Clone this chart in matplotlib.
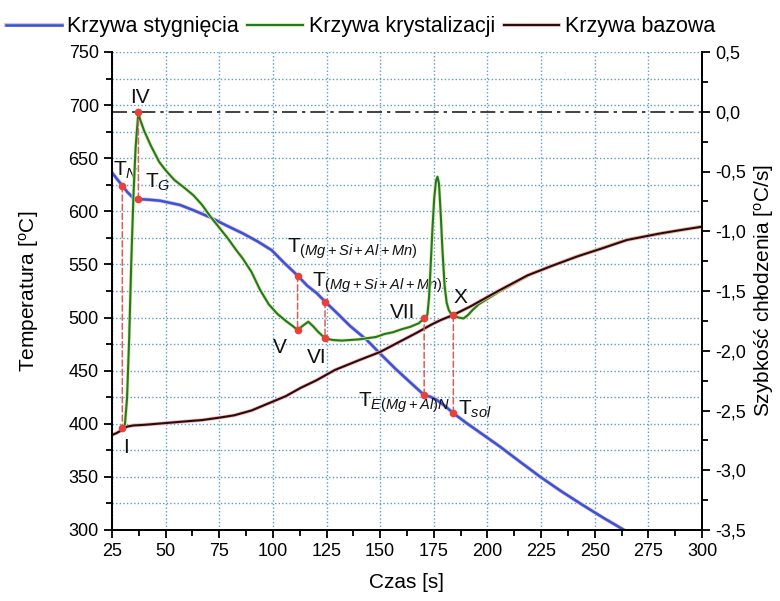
import matplotlib
matplotlib.use("Agg")
import matplotlib.pyplot as plt
import matplotlib.patheffects as pe
from matplotlib.ticker import MultipleLocator, FuncFormatter
from matplotlib.patches import ConnectionPatch

plt.rcParams['font.family'] = ['Liberation Sans', 'DejaVu Sans']
plt.rcParams['mathtext.fontset'] = 'custom'
plt.rcParams['mathtext.rm'] = 'Liberation Sans'
plt.rcParams['mathtext.it'] = 'Liberation Sans:italic'

# Krzywa stygnięcia (lewa oś, °C)
t_cool = [25, 27.5, 29.5, 32, 34.9, 37.3, 42, 47.4, 56.7, 63, 70.7, 78, 86.2, 93, 99.5,
          105, 111.5, 116, 120.4, 124.3, 130, 136, 143.7, 150, 157, 164, 170.5, 173.3,
          176.4, 180, 184.1, 190, 196, 205.9, 215, 224.5, 234, 244, 254, 263.7]
T_cool = [636.5, 630, 625, 618.5, 612.5, 611.5, 611, 610, 606, 601, 594.4, 587, 579, 571.5, 563.3,
          552, 539.5, 530, 523, 515, 504, 492, 479, 466, 452, 439, 427, 425.5,
          422.4, 417, 410, 401, 392.5, 378.4, 364.5, 350.2, 337, 324, 311.5, 300]

# Krzywa krystalizacji (prawa oś, °C/s)
t_cryst = [29.8, 31, 32, 33, 34, 35, 36, 37.3, 38, 40, 43, 47, 50, 54, 59, 63, 67, 71, 75, 79,
           83, 86, 90, 94, 98, 102, 106, 109, 111.5, 114, 116.5, 119, 121, 124.3, 128, 132,
           136, 140, 144, 148, 152, 156, 160, 164, 168, 170.5, 172, 172.8, 173.5, 174.3,
           175.2, 176, 176.7, 177.4, 178.2, 179, 180, 181, 182, 183, 184.1, 186, 188.8,
           191, 193, 196, 205, 220, 240, 265, 300]
r_cryst = [-2.65, -2.62, -2.4, -1.9, -1.25, -0.7, -0.3, 0.0, -0.06, -0.16, -0.28, -0.42, -0.49,
           -0.57, -0.64, -0.70, -0.78, -0.88, -0.97, -1.06, -1.16, -1.23, -1.34, -1.49, -1.61,
           -1.69, -1.75, -1.79, -1.826, -1.79, -1.757, -1.80, -1.84, -1.896, -1.91, -1.915,
           -1.91, -1.905, -1.895, -1.885, -1.86, -1.845, -1.82, -1.80, -1.77, -1.73, -1.70,
           -1.55, -1.30, -1.00, -0.72, -0.58, -0.544, -0.60, -0.85, -1.15, -1.45, -1.60,
           -1.66, -1.69, -1.70, -1.72, -1.73, -1.70, -1.66, -1.61, -1.51, -1.36, -1.22,
           -1.07, -0.96]

# Krzywa bazowa (prawa oś, °C/s)
t_base = [25, 27, 29, 30.3, 32, 35, 40, 50, 60, 67, 75, 82, 90, 98, 106, 113, 120, 129, 140,
          150, 159, 167, 174, 178, 184.1, 192, 205, 218.6, 230, 242, 254, 265, 280, 290, 300]
r_base = [-2.705, -2.69, -2.67, -2.65, -2.635, -2.625, -2.62, -2.605, -2.59, -2.58, -2.56,
          -2.54, -2.50, -2.44, -2.38, -2.31, -2.25, -2.16, -2.08, -2.01, -1.925, -1.85, -1.78,
          -1.745, -1.70, -1.63, -1.50, -1.37, -1.29, -1.21, -1.14, -1.073, -1.02, -0.99, -0.962]

# Punkty charakterystyczne
t_pts = [29.8, 37.3, 111.5, 124.3, 170.5, 184.1]
T_pts = [624, 611.5, 539.5, 515, 427, 410]
r_pts = [-2.65, 0.0, -1.826, -1.896, -1.73, -1.70]

# Opisy (tekst, t, T)
labels = [
    (r"T$_{N}$", 25.5, 634),
    (r"T$_{G}$", 40.4, 622),
    ("IV", 33.4, 702),
    ("I", 30.3, 372.5),
    (r"T$_{(Mg+Si+Al+Mn)}$", 106.4, 560.8),
    (r"T$_{(Mg+Si+Al+Mn)f}$", 118.1, 528.8),
    ("V", 100, 466.7),
    ("VI", 115.8, 457),
    ("VII", 154.6, 499.6),
    ("X", 184.1, 513.7),
    (r"T$_{E(Mg+Al)N}$", 139.5, 415.8),
    (r"T$_{sol}$", 186.3, 408.3),
]

fig = plt.figure(figsize=(7.8, 6.01), dpi=100)
ax = fig.add_axes([112 / 780, 1 - 530 / 601, 590 / 780, 478 / 601])
ax2 = ax.twinx()

grid_c = '#5a9ccc'
ax.xaxis.set_major_locator(MultipleLocator(25))
ax.xaxis.set_minor_locator(MultipleLocator(12.5))
ax.yaxis.set_major_locator(MultipleLocator(50))
ax.yaxis.set_minor_locator(MultipleLocator(25))
ax.grid(axis='x', which='major', color=grid_c, ls=(0, (1, 1.6)), lw=1.0)
ax.grid(axis='y', which='both', color=grid_c, ls=(0, (1, 1.6)), lw=1.0)

ax2.axhline(0, color='#222222', lw=1.2, ls=(0, (9, 3, 2, 3)), zorder=1)

l1, = ax.plot(t_cool, T_cool, color='#2f58d6', lw=1.8, label='Krzywa stygnięcia',
              path_effects=[pe.Stroke(linewidth=2.8, foreground='#eeb0d8'), pe.Normal()])
l2, = ax2.plot(t_cryst, r_cryst, color='#1b7a2c', lw=1.5, label='Krzywa krystalizacji',
               path_effects=[pe.Stroke(linewidth=2.6, foreground='#ece89a'), pe.Normal()])
l3, = ax2.plot(t_base, r_base, color='#2a0c0c', lw=1.5, label='Krzywa bazowa',
               path_effects=[pe.Stroke(linewidth=2.6, foreground='#f2b0b0'), pe.Normal()])

ax.set_xlim(25, 300)
ax.set_ylim(300, 750)
ax2.yaxis.set_major_locator(MultipleLocator(0.5))
ax2.yaxis.set_minor_locator(MultipleLocator(0.25))
ax2.yaxis.set_major_formatter(FuncFormatter(
    lambda v, _: ("%.1f" % v).replace('.', ',').replace('-0,0', '0,0')))

# linie przerywane miedzy punktami
for t, T, r in zip(t_pts, T_pts, r_pts):
    cp = ConnectionPatch(xyA=(t, T), coordsA=ax.transData, xyB=(t, r), coordsB=ax2.transData,
                         color='#d9605a', lw=1.1, ls=(0, (4, 2)), zorder=3)
    ax2.add_artist(cp)

ax2.plot(t_pts, T_pts, 'o', color='#e8403a', ms=4.5, transform=ax.transData, zorder=5)
ax2.plot(t_pts, r_pts, 'o', color='#e8403a', ms=4.5, zorder=5)
ax2.set_ylim(-3.5, 0.5)

for txt, t, T in labels:
    ax.text(t, T, txt, fontsize=15, va='baseline', ha='left', color='#111111')

for a in (ax, ax2):
    a.spines['top'].set_visible(False)
    for s in a.spines.values():
        s.set_linewidth(1.4)
    a.tick_params(which='major', direction='out', length=6, width=1.3, labelsize=13)
    a.tick_params(which='minor', direction='out', length=4, width=1.3)

ax.yaxis.get_major_ticks()[-1].gridline.set_visible(False)

ax.set_xlabel('Czas [s]', fontsize=15)
ax.set_ylabel(r'Temperatura [$^{\mathrm{o}}$C]', fontsize=15)
ax2.set_ylabel(r'Szybkość chłodzenia [$^{\mathrm{o}}$C/s]', fontsize=15)
ax.xaxis.set_label_coords(0.5, -0.09)
ax.yaxis.set_label_coords(-0.12, 0.5)
ax2.yaxis.set_label_coords(1.085, 0.5)

fig.legend(handles=[l1, l2, l3], loc='upper center', bbox_to_anchor=(0.462, 1.005), ncol=3,
           frameon=False, fontsize=15.5, handlelength=2.6, handletextpad=0.25,
           columnspacing=0.4)

fig.savefig('out.png', dpi=100)
